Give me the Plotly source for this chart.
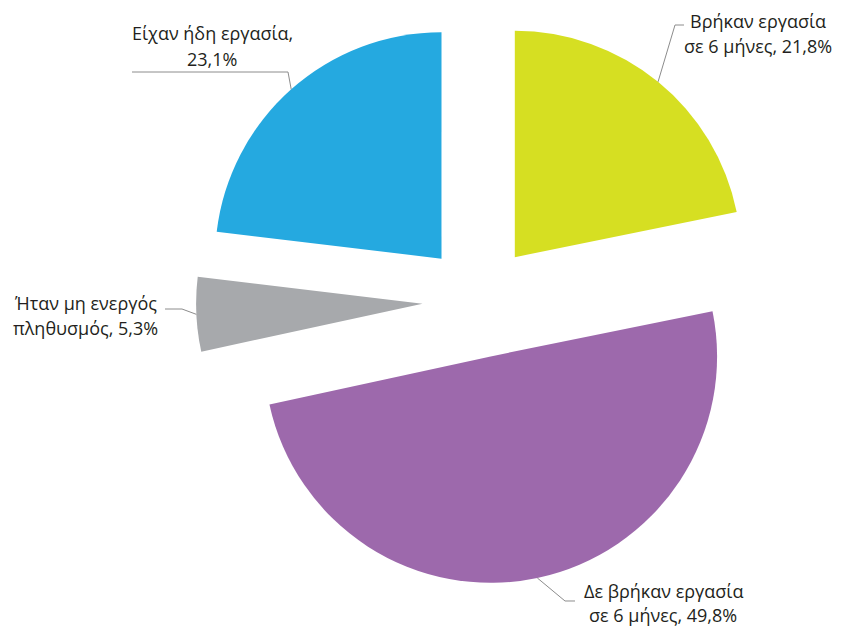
import math
import plotly.graph_objects as go

# Outcome shares (%), clockwise from 12 o'clock
categories = ["Βρήκαν εργασία σε 6 μήνες", "Δε βρήκαν εργασία σε 6 μήνες",
              "Ήταν μη ενεργός πληθυσμός", "Είχαν ήδη εργασία"]
values = [21.8, 49.8, 5.3, 23.1]
label_heads = ["Βρήκαν εργασία", "Δε βρήκαν εργασία", "Ήταν μη ενεργός", "Είχαν ήδη εργασία,"]
label_tails = ["σε 6 μήνες, ", "σε 6 μήνες, ", "πληθυσμός, ", ""]
colors = ["#D6DF22", "#9D69AC", "#A7A9AC", "#25A9E0"]

W, H = 841, 629
PULL = 0.25
DOM_X = [0.2331, 0.9061]
DOM_Y = [0.0715, 0.9714]
FONT = "Open Sans"
FONT_SIZE = 18
TEXT_COLOR = "#231F20"
LEADER_COLOR = "#8C8C8C"

# Label placement in pixels: text centre x, y of both lines, leader path from the text side
label_layout = [
    dict(x=758, y1=21, y2=46, path=[(684, 25), (675, 25)]),
    dict(x=663, y1=591, y2=615, path=[(575, 601), (565, 601)]),
    dict(x=85, y1=303, y2=328, path=[(165, 309), (182, 309)]),
    dict(x=212, y1=33, y2=59, path=[(132, 72), (288, 72)]),
]


def fmt(v):
    return f"{v:.1f}".replace(".", ",") + "%"


fig = go.Figure(go.Pie(
    labels=categories, values=values, sort=False, direction="clockwise",
    rotation=0, pull=[PULL] * len(values),
    marker=dict(colors=colors, line=dict(width=0)),
    textinfo="none", hoverinfo="label+percent", showlegend=False,
    domain=dict(x=DOM_X, y=DOM_Y),
))

# Pie geometry in pixels, following plotly's own layout rule
cx = W * (DOM_X[0] + DOM_X[1]) / 2
cy = H * (1 - (DOM_Y[0] + DOM_Y[1]) / 2)
r = min(W * (DOM_X[1] - DOM_X[0]), H * (DOM_Y[1] - DOM_Y[0])) / 2 / (1 + PULL)
total = sum(values)


def px(x):
    return x / W


def py(y):
    return 1 - y / H


annotations, shapes = [], []
cum = 0.0
for v, head, tail, lay in zip(values, label_heads, label_tails, label_layout):
    mid = 2 * math.pi * (cum + v / 2) / total
    cum += v
    dx, dy = math.sin(mid), -math.cos(mid)
    sx, sy = cx + PULL * r * dx, cy + PULL * r * dy
    ax, ay = sx + r * dx, sy + r * dy
    pts = lay["path"] + [(ax, ay)]
    path = "M " + " L ".join(f"{px(a):.5f},{py(b):.5f}" for a, b in pts)
    shapes.append(dict(type="path", xref="paper", yref="paper", path=path,
                       line=dict(color=LEADER_COLOR, width=1)))
    second = (tail + fmt(v)) if tail else fmt(v)
    for text, y in ((head, lay["y1"]), (second, lay["y2"])):
        annotations.append(dict(
            text=text, x=px(lay["x"]), y=py(y), xref="paper", yref="paper",
            xanchor="center", yanchor="middle", showarrow=False,
            font=dict(family=FONT, size=FONT_SIZE, color=TEXT_COLOR)))

fig.update_layout(
    width=W, height=H, margin=dict(l=0, r=0, t=0, b=0),
    paper_bgcolor="white", plot_bgcolor="white",
    annotations=annotations, shapes=shapes,
)

fig.write_html("out.html")
